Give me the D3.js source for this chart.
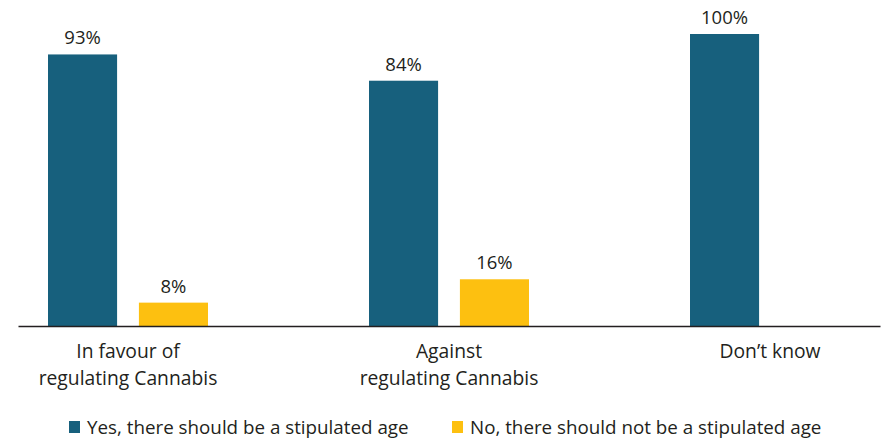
<!DOCTYPE html>
<html><head><meta charset="utf-8">
<script src="https://cdn.jsdelivr.net/npm/d3@7"></script>
<style>body{margin:0;background:#fff}text{font-family:"Open Sans",sans-serif;fill:#231f20}</style>
</head><body>
<svg id="c" width="881" height="440"></svg>
<script>
const categories = [["In favour of","regulating Cannabis"],["Against","regulating Cannabis"],["Don\u2019t know"]];
const series = ["Yes, there should be a stipulated age","No, there should not be a stipulated age"];
const yesValues = [93, 84, 100];
const noValues = [8, 16, null];
const colors = ["#17607d","#fdc010"];

const svg = d3.select("#c");
const catKeys = categories.map(c => c.join(" "));
const x0 = d3.scaleBand().domain(catKeys).range([8, 971]).padding(0);
const x1 = d3.scaleBand().domain(series).range([40, 200]).paddingInner(0.24).paddingOuter(0);
const y = d3.scaleLinear().domain([0, 100]).range([326, 34]);

const data = catKeys.map((k, i) => ({k, vals: [yesValues[i], noValues[i]]}));

const g = svg.selectAll("g.grp").data(data).join("g").attr("class","grp")
  .attr("transform", d => `translate(${x0(d.k)},0)`);

g.each(function(d){
  const sel = d3.select(this);
  d.vals.forEach((v, j) => {
    if (v == null) return;
    sel.append("rect").attr("x", x1(series[j])).attr("width", x1.bandwidth())
      .attr("y", y(v)).attr("height", y(0) - y(v)).attr("fill", colors[j]);
    sel.append("text").attr("x", x1(series[j]) + x1.bandwidth()/2).attr("y", y(v) - 10)
      .attr("text-anchor","middle").attr("font-size", 18.5).text(v + "%");
  });
});

// axis line
svg.append("g").attr("transform", `translate(0,${y(0)})`)
  .call(d3.axisBottom(d3.scaleLinear().range([18, 880])).ticks(0).tickSize(0).tickFormat(""))
  .call(a => a.select(".domain").attr("stroke","#231f20").attr("stroke-width",1.3));

// category labels
categories.forEach((lines, i) => {
  const cx = x0(catKeys[i]) + 120;
  lines.forEach((t, li) => {
    svg.append("text").attr("x", cx).attr("y", 358 + li*27).attr("text-anchor","middle")
      .attr("font-size", 19.3).text(t);
  });
});

// legend
const legX = [69, 452];
series.forEach((s, j) => {
  svg.append("rect").attr("x", legX[j]).attr("y", 421).attr("width", 11).attr("height", 12).attr("fill", colors[j]);
  svg.append("text").attr("x", legX[j] + 18).attr("y", 434).attr("font-size", 18.8).text(s);
});
</script>
</body></html>
